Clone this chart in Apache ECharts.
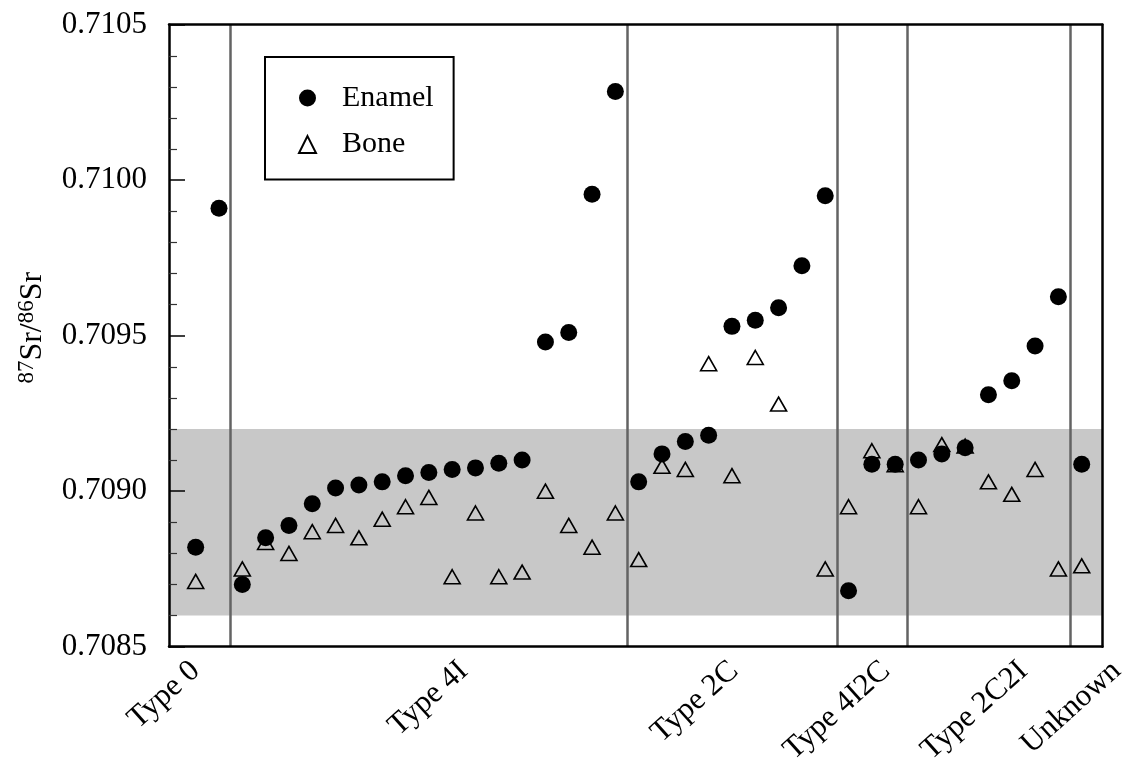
<!DOCTYPE html>
<html>
<head>
<meta charset="utf-8">
<script src="https://cdn.jsdelivr.net/npm/echarts@6/dist/echarts.min.js"></script>
<style>
  html, body { margin: 0; padding: 0; background: #fff; }
  #chart { width: 1130px; height: 764px; }
</style>
</head>
<body>
<div id="chart"></div>
<script>
// ---- data ----
const sampleIndex = [1,2,3,4,5,6,7,8,9,10,11,12,13,14,15,16,17,18,19,20,21,22,23,24,25,26,27,28,29,30,31,32,33,34,35,36,37,38,39];
const enamel = [0.70882, 0.70991,
  0.70870, 0.70885, 0.70889, 0.70896, 0.70901, 0.70902, 0.70903, 0.70905, 0.70906, 0.70907, 0.709075, 0.70909, 0.70910, 0.70948, 0.70951, 0.709955, 0.710285,
  0.70903, 0.70912, 0.70916, 0.70918, 0.70953, 0.70955, 0.70959, 0.709725, 0.70995,
  0.70868, 0.709087, 0.709087,
  0.70910, 0.70912, 0.70914, 0.70931, 0.709355, 0.709467, 0.709625,
  0.709087];
const bone = [0.70871, null,
  0.70875, 0.708835, 0.70880, 0.70887, 0.70889, 0.70885, 0.70891, 0.70895, 0.70898, 0.708725, 0.70893, 0.708725, 0.70874, 0.70900, 0.70889, 0.70882, 0.70893,
  0.70878, 0.70908, 0.70907, 0.70941, 0.70905, 0.70943, 0.70928, null, 0.70875,
  0.70895, 0.70913, 0.709085,
  0.70895, 0.70915, 0.709145, 0.70903, 0.70899, 0.70907, 0.70875,
  0.70876];
const groupLabels = ['Type 0', 'Type 4I', 'Type 2C', 'Type 4I2C', 'Type 2C2I', 'Unknown'];
const groupLabelPos = [1.0, 12.5, 24.1, 30.6, 36.5, 40.5];
const dividers = [2.5, 19.5, 28.5, 31.5, 38.5];
const band = [0.7086, 0.7092];
const yTicks = { min: 0.7085, max: 0.7105, interval: 0.0005 };
const xRange = { min: -0.144, max: 39.883 };

// ---- layout ----
const FONT = "'Liberation Serif', 'Times New Roman', serif";
const W = 1130;
const G = { left: 169, top: 24.7, right: 27.7, bottom: 117.3 };
const gridW = W - G.left - G.right;
const pxPerUnit = gridW / (xRange.max - xRange.min);
const labelGridW = W - G.left;

const pairs = (ys) => sampleIndex.map((x, i) => [x, ys[i]]).filter(p => p[1] != null);

const chart = echarts.init(document.getElementById('chart'), null, { renderer: 'canvas' });
const option = {
  backgroundColor: '#fff',
  animation: false,
  textStyle: { fontFamily: FONT },
  grid: [
    { left: G.left, top: G.top, right: G.right, bottom: G.bottom, outerBoundsMode: 'none' },
    { left: G.left, top: G.top, right: 0, bottom: G.bottom, outerBoundsMode: 'none' }
  ],
  legend: {
    left: 265, top: 57,
    orient: 'vertical',
    data: ['Enamel', 'Bone'],
    borderColor: '#000', borderWidth: 2,
    padding: [26, 20, 20, 33],
    itemWidth: 17, itemHeight: 17, itemGap: 16.6,
    textStyle: { fontFamily: FONT, fontSize: 30, color: '#000', lineHeight: 30, padding: [0, 0, 0, 21] }
  },
  xAxis: [
    { type: 'value', gridIndex: 0, min: xRange.min, max: xRange.max, position: 'bottom', z: 10,
      axisLine: { show: true, onZero: false, lineStyle: { color: '#000', width: 2.5 } },
      axisTick: { show: false }, axisLabel: { show: false }, splitLine: { show: false } },
    { type: 'value', gridIndex: 0, min: xRange.min, max: xRange.max, position: 'top', z: 10,
      axisLine: { show: true, onZero: false, lineStyle: { color: '#000', width: 2.5 } },
      axisTick: { show: false }, axisLabel: { show: false }, splitLine: { show: false } },
    { type: 'value', gridIndex: 1, min: xRange.min, max: xRange.min + labelGridW / pxPerUnit, position: 'bottom',
      axisLine: { show: false }, axisTick: { show: false }, splitLine: { show: false },
      axisLabel: {
        show: true, rotate: 42, margin: 20,
        customValues: groupLabelPos,
        formatter: (v) => { const i = groupLabelPos.findIndex(p => Math.abs(p - v) < 1e-6); return i >= 0 ? groupLabels[i] : ''; },
        fontFamily: FONT, fontSize: 31, color: '#000'
      } }
  ],
  yAxis: [
    { type: 'value', gridIndex: 0, min: yTicks.min, max: yTicks.max, interval: yTicks.interval, position: 'left', z: 10,
      name: '{sup|87}{n|Sr/}{sup|86}{n|Sr}',
      nameLocation: 'middle', nameGap: 118, nameRotate: 90,
      nameTextStyle: {
        fontFamily: FONT, color: '#000', padding: [0, 0, 0, 16],
        rich: {
          n: { fontFamily: FONT, fontSize: 32, color: '#000', lineHeight: 34 },
          sup: { fontFamily: FONT, fontSize: 23, color: '#000', verticalAlign: 'top', lineHeight: 34, padding: [0, 0, 12, 0] }
        }
      },
      axisLine: { show: true, onZero: false, lineStyle: { color: '#000', width: 2.5 } },
      axisTick: { show: true, inside: true, length: 16, lineStyle: { color: '#000', width: 1.5 } },
      minorTick: { show: true, splitNumber: 5, length: 8, lineStyle: { color: '#333', width: 1.2 } },
      axisLabel: { show: true, margin: 22, fontFamily: FONT, fontSize: 31, color: '#000',
        formatter: (v) => v.toFixed(4) },
      splitLine: { show: false }
    },
    { type: 'value', gridIndex: 0, min: yTicks.min, max: yTicks.max, position: 'right', z: 10,
      axisLine: { show: true, onZero: false, lineStyle: { color: '#000', width: 2.5 } },
      axisTick: { show: false }, axisLabel: { show: false }, splitLine: { show: false } },
    { type: 'value', gridIndex: 1, min: 0, max: 1, show: false }
  ],
  series: [
    { name: 'band', type: 'scatter', xAxisIndex: 0, yAxisIndex: 0, data: [], silent: true, z: 1,
      markArea: { silent: true, z: 1, itemStyle: { color: '#c8c8c8' },
        data: [[{ yAxis: band[0] }, { yAxis: band[1] }]] } },
    { name: 'div', type: 'scatter', xAxisIndex: 0, yAxisIndex: 0, data: [], silent: true, z: 2,
      markLine: { silent: true, z: 2, symbol: ['none', 'none'], animation: false,
        label: { show: false },
        lineStyle: { color: '#636363', width: 2.5, type: 'solid' },
        data: dividers.map(d => ({ xAxis: d })) } },
    { name: 'Bone', type: 'scatter', xAxisIndex: 0, yAxisIndex: 0, z: 3,
      symbol: 'triangle', symbolSize: [16, 14],
      itemStyle: { color: 'rgba(0,0,0,0)', borderColor: '#000', borderWidth: 1.6, opacity: 1 },
      data: pairs(bone) },
    { name: 'Enamel', type: 'scatter', xAxisIndex: 0, yAxisIndex: 0, z: 4,
      symbol: 'circle', symbolSize: 17,
      itemStyle: { color: '#000', opacity: 1 },
      data: pairs(enamel) }
  ]
};
chart.setOption(option);
</script>
</body>
</html>
